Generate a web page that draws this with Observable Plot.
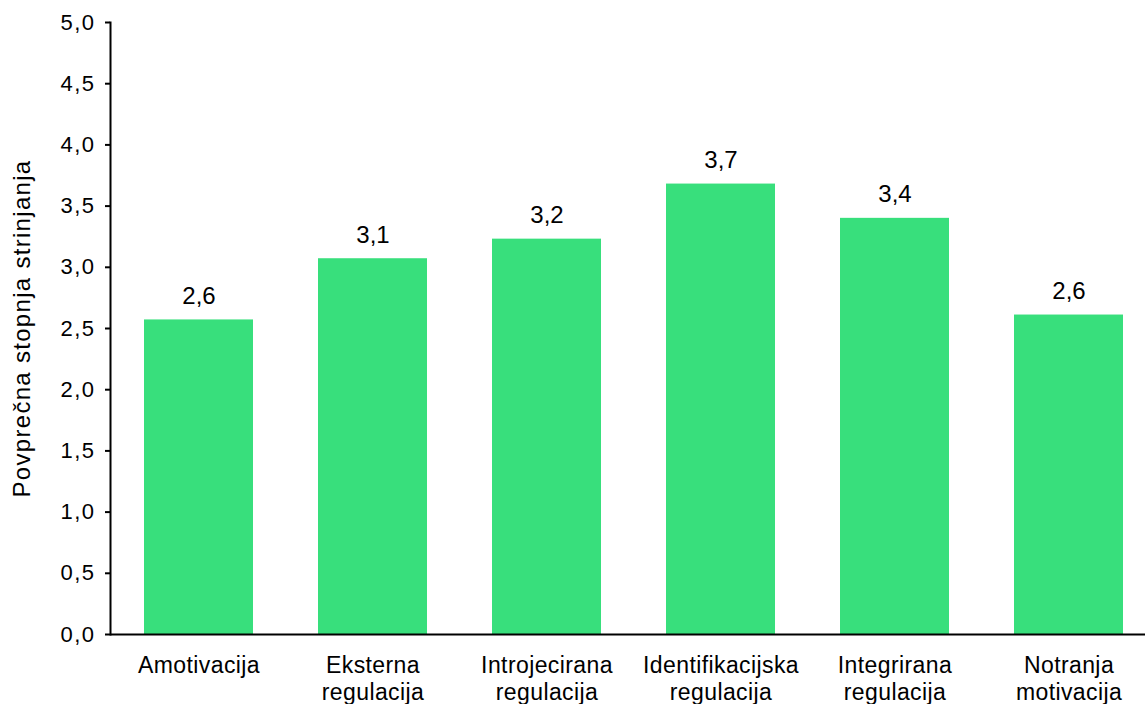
<!DOCTYPE html>
<html>
<head>
<meta charset="utf-8">
<script src="https://cdn.jsdelivr.net/npm/d3@7"></script>
<script src="https://cdn.jsdelivr.net/npm/@observablehq/plot@0.6"></script>
<style>
  html, body { margin: 0; padding: 0; background: #fff; }
  #chart svg { display: block; font-family: "Liberation Sans", Arial, sans-serif; }
  #chart g[aria-label="y-axis tick label"] text { letter-spacing: 1.5px; }
  #chart g[aria-label="x-axis tick label"] text { letter-spacing: 0.4px; }
  #chart g.ytitle text { letter-spacing: 1.3px; }
</style>
</head>
<body>
<div id="chart"></div>
<script>
// Motivation types (two-line labels) and their mean agreement scores
const categories = [
  "Amotivacija",
  "Eksterna\nregulacija",
  "Introjecirana\nregulacija",
  "Identifikacijska\nregulacija",
  "Integrirana\nregulacija",
  "Notranja\nmotivacija"
];
const values = [2.57, 3.07, 3.23, 3.68, 3.40, 2.61];
const yTicks = [0, 0.5, 1, 1.5, 2, 2.5, 3, 3.5, 4, 4.5, 5];
const yTitle = "Povprečna stopnja strinjanja";

const data = categories.map((c, i) => ({category: c, value: values[i]}));
const comma = (d) => d3.format(".1f")(d).replace(".", ",");

const chart = Plot.plot({
  width: 1145,
  height: 704,
  marginLeft: 110,
  marginRight: 0,
  marginTop: 22,
  marginBottom: 70,
  style: {fontFamily: "'Liberation Sans', Arial, sans-serif", background: "#fff", color: "#000"},
  x: {domain: categories, range: [111.5, 1155.5], paddingInner: 0.374, paddingOuter: 0.187},
  y: {domain: [0, 5]},
  marks: [
    Plot.barY(data, {x: "category", y: "value", fill: "#38df7c"}),
    Plot.text(data, {
      x: "category", y: "value", text: (d) => comma(d.value),
      lineAnchor: "bottom", dy: -16, fontSize: 24, fill: "#000"
    }),
    Plot.axisY({
      ticks: yTicks, tickFormat: comma, tickSize: 5, tickPadding: 10,
      strokeWidth: 2, fontSize: 22, label: null
    }),
    Plot.axisX({
      tickSize: 0, tickPadding: 19, fontSize: 23, lineHeight: 1.17, label: null
    }),
    Plot.frame({anchor: "left", strokeWidth: 2}),
    Plot.ruleY([0], {strokeWidth: 2}),
    Plot.text([yTitle], {
      frameAnchor: "left", dx: -88, rotate: -90, fontSize: 24,
      textAnchor: "middle", lineAnchor: "middle", className: "ytitle", fill: "#000"
    })
  ]
});
document.getElementById("chart").appendChild(chart);
</script>
</body>
</html>
